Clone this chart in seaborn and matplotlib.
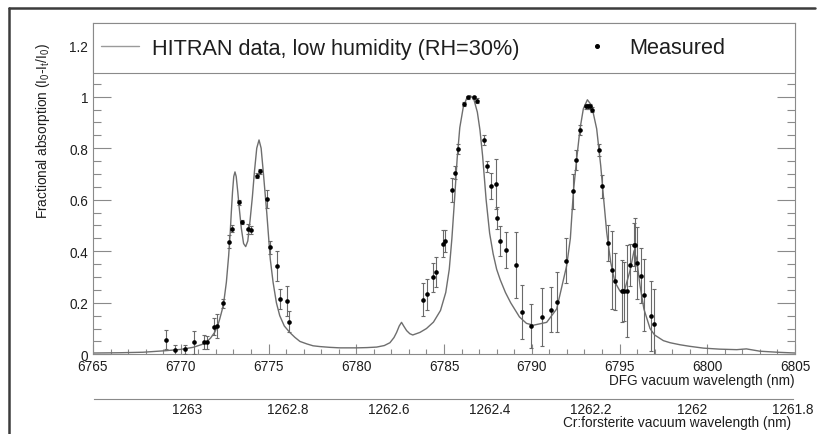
import matplotlib
matplotlib.use("Agg")
import matplotlib.pyplot as plt
import matplotlib.transforms as mtrans
import seaborn as sns
import pandas as pd
from matplotlib.ticker import MultipleLocator, FuncFormatter
from matplotlib.lines import Line2D
from matplotlib.patches import Rectangle

# ---------------- data ----------------
dfg_nm = [6769.14, 6769.69, 6770.24, 6770.77, 6771.32, 6771.50, 6771.88, 6772.05,
          6772.41, 6772.77, 6772.90, 6773.30, 6773.47, 6773.85, 6774.00, 6774.36,
          6774.53, 6774.93, 6775.09, 6775.48, 6775.64, 6776.04, 6776.17,
          6783.78, 6784.01, 6784.35, 6784.54, 6784.93, 6785.07, 6785.46, 6785.63,
          6785.82, 6786.14, 6786.39, 6786.73, 6786.90, 6787.28, 6787.47, 6787.66,
          6787.96, 6788.00, 6788.19, 6788.53, 6789.12, 6789.46, 6789.97, 6790.58,
          6791.10, 6791.46, 6791.97, 6792.35, 6792.54, 6792.73, 6793.09, 6793.22,
          6793.32, 6793.43, 6793.85, 6794.02, 6794.36, 6794.57, 6794.72, 6795.12,
          6795.27, 6795.44, 6795.61, 6795.80, 6795.88, 6795.99, 6796.20, 6796.39,
          6796.77, 6796.94]
absorption = [0.056, 0.015, 0.019, 0.047, 0.047, 0.047, 0.107, 0.110,
              0.198, 0.437, 0.487, 0.590, 0.514, 0.487, 0.483, 0.694,
              0.711, 0.602, 0.415, 0.344, 0.216, 0.207, 0.127,
              0.212, 0.233, 0.299, 0.318, 0.430, 0.439, 0.638, 0.705,
              0.797, 0.973, 0.998, 0.998, 0.985, 0.832, 0.730, 0.652,
              0.660, 0.528, 0.440, 0.405, 0.347, 0.164, 0.111, 0.145,
              0.173, 0.203, 0.364, 0.633, 0.755, 0.871, 0.962, 0.962,
              0.962, 0.950, 0.793, 0.652, 0.433, 0.327, 0.283, 0.245,
              0.245, 0.245, 0.348, 0.426, 0.425, 0.355, 0.305, 0.230,
              0.148, 0.116]
absorption_err = [0.037, 0.023, 0.018, 0.045, 0.027, 0.025, 0.034, 0.047,
                  0.017, 0.026, 0.013, 0.010, 0.008, 0.019, 0.015, 0.010,
                  0.010, 0.036, 0.024, 0.058, 0.039, 0.058, 0.042,
                  0.063, 0.060, 0.057, 0.058, 0.052, 0.042, 0.045, 0.026,
                  0.019, 0.008, 0.006, 0.006, 0.008, 0.019, 0.021, 0.051,
                  0.097, 0.043, 0.058, 0.071, 0.127, 0.105, 0.086, 0.111,
                  0.087, 0.117, 0.087, 0.068, 0.039, 0.020, 0.008, 0.008,
                  0.008, 0.010, 0.023, 0.044, 0.070, 0.152, 0.110, 0.120,
                  0.115, 0.179, 0.081, 0.084, 0.103, 0.140, 0.107, 0.141,
                  0.137, 0.137]

hitran_nm = [6765.0, 6766.5, 6767.85, 6769.14, 6770.0, 6770.7, 6771.2, 6771.46,
             6771.7, 6771.93, 6772.1, 6772.22, 6772.35, 6772.45, 6772.60, 6772.73,
             6772.82, 6772.88, 6772.95, 6773.02, 6773.09, 6773.16, 6773.25, 6773.33,
             6773.45, 6773.58, 6773.70, 6773.82, 6773.95, 6774.08, 6774.20, 6774.33,
             6774.46, 6774.58, 6774.70, 6774.80, 6774.90, 6775.00, 6775.10, 6775.26,
             6775.45, 6775.64, 6775.90, 6776.21, 6776.50, 6776.79, 6777.20, 6777.54,
             6777.93, 6778.50, 6779.07, 6780.03, 6780.60, 6781.16, 6781.60, 6781.92,
             6782.15, 6782.30, 6782.45, 6782.58, 6782.72, 6782.87, 6783.05, 6783.22,
             6783.63, 6784.00, 6784.40, 6784.80, 6785.10, 6785.30, 6785.45, 6785.60,
             6785.75, 6785.90, 6786.10, 6786.30, 6786.50, 6786.70, 6786.90, 6787.05,
             6787.20, 6787.40, 6787.60, 6787.80, 6788.00, 6788.20, 6788.50, 6788.80,
             6789.30, 6789.70, 6790.10, 6790.85, 6791.42, 6791.99, 6792.20,
             6792.37, 6792.56, 6792.75, 6792.94, 6793.17, 6793.41, 6793.70, 6793.93,
             6794.08, 6794.27, 6794.50, 6794.74, 6795.03, 6795.31, 6795.60, 6795.83,
             6795.98, 6796.17, 6796.39, 6796.74, 6797.00, 6797.50, 6797.88, 6798.45,
             6799.00, 6799.78, 6800.70, 6801.68, 6802.23, 6803.00, 6804.00, 6805.0]
hitran_abs = [0.005, 0.006, 0.008, 0.014, 0.019, 0.027, 0.038, 0.047,
              0.063, 0.085, 0.110, 0.137, 0.170, 0.202, 0.280, 0.383,
              0.474, 0.550, 0.630, 0.690, 0.708, 0.690, 0.630, 0.570,
              0.490, 0.430, 0.418, 0.440, 0.520, 0.610, 0.710, 0.800,
              0.832, 0.800, 0.710, 0.630, 0.550, 0.460, 0.370, 0.280,
              0.200, 0.150, 0.110, 0.085, 0.066, 0.050, 0.040, 0.033,
              0.030, 0.027, 0.025, 0.025, 0.026, 0.028, 0.034, 0.045,
              0.065, 0.085, 0.110, 0.124, 0.108, 0.092, 0.080, 0.075,
              0.085, 0.100, 0.125, 0.170, 0.240, 0.330, 0.450, 0.600,
              0.760, 0.880, 0.960, 0.995, 1.004, 0.990, 0.940, 0.870,
              0.770, 0.600, 0.470, 0.390, 0.330, 0.290, 0.240, 0.200,
              0.145, 0.120, 0.113, 0.124, 0.176, 0.344, 0.450,
              0.629, 0.758, 0.875, 0.953, 0.988, 0.966, 0.875, 0.732,
              0.616, 0.474, 0.357, 0.280, 0.245, 0.254, 0.325, 0.402,
              0.370, 0.266, 0.176, 0.100, 0.075, 0.053, 0.045, 0.037,
              0.031, 0.024, 0.020, 0.018, 0.021, 0.012, 0.008, 0.005]

crf_limits = (1263.184, 1261.8)

legend_labels = ["HITRAN data, low humidity (RH=30%)", "Measured"]
x_title = "DFG vacuum wavelength (nm)"
x2_title = "Cr:forsterite vacuum wavelength (nm)"
y_title = "Fractional absorption (I$_{0}$-I$_{t}$/I$_{0}$)"

# ---------------- style ----------------
sns.set_style("white")
plt.rcParams["font.family"] = ["Liberation Sans", "DejaVu Sans"]
plt.rcParams["mathtext.default"] = "regular"

FRAME = "#8a8a8a"
CURVE = "#6e6e6e"
TXT = "#1e1e1e"
FS = 9.8

W, H = 823, 435
fig = plt.figure(figsize=(W / 100, H / 100), dpi=100)
ax_l, ax_r, ax_b, ax_t = 93, 795, 355.3, 24
ax = fig.add_axes([ax_l / W, (H - ax_b) / H, (ax_r - ax_l) / W, (ax_b - ax_t) / H])

curve_df = pd.DataFrame({"nm": hitran_nm, "abs": hitran_abs})
meas_df = pd.DataFrame({"nm": dfg_nm, "abs": absorption, "err": absorption_err})

sns.lineplot(data=curve_df, x="nm", y="abs", ax=ax, color=CURVE, lw=1.0,
             sort=False, estimator=None, zorder=2)
ax.errorbar(meas_df["nm"], meas_df["abs"], yerr=meas_df["err"], fmt="none",
            ecolor="#6a6a6a", elinewidth=0.8, capsize=1.3, capthick=0.8, zorder=3)
sns.scatterplot(data=meas_df, x="nm", y="abs", ax=ax, color="black", s=11,
                linewidth=0, zorder=4)

ax.set_xlim(6765, 6805)
ax.set_ylim(0, 1.286)
ax.xaxis.set_major_locator(MultipleLocator(5))
ax.xaxis.set_minor_locator(MultipleLocator(1))
ax.yaxis.set_major_locator(MultipleLocator(0.2))
ax.yaxis.set_minor_locator(MultipleLocator(0.05))
fmt = FuncFormatter(lambda v, p: "%g" % round(v, 4))
ax.yaxis.set_major_formatter(fmt)
ax.xaxis.set_major_formatter(fmt)

for s in ax.spines.values():
    s.set_color(FRAME)
    s.set_linewidth(0.8)
ax.tick_params(axis="both", which="both", direction="in", colors=FRAME,
               labelcolor=TXT, labelsize=FS, width=0.8)
ax.tick_params(axis="y", which="major", length=13, pad=3.5, left=True, right=True)
ax.tick_params(axis="y", which="minor", length=6, left=True, right=True)
ax.tick_params(axis="x", which="major", length=7, pad=3.2, bottom=True, top=False)
ax.tick_params(axis="x", which="minor", length=3.5, bottom=True, top=False)

ax.set_xlabel(x_title, fontsize=FS, color=TXT, loc="right")
ax.xaxis.label.set_va("center")
ax.xaxis.set_label_coords(1.0, (ax_b - 381.5) / (ax_b - ax_t))
ax.set_ylabel(y_title, fontsize=FS, color=TXT, loc="top")
ax.yaxis.label.set_va("center")
ax.yaxis.set_label_coords((43 - ax_l) / (ax_r - ax_l), (ax_b - 43) / (ax_b - ax_t))

# legend box spanning the top of the frame
box_bottom = (ax_b - 74) / (ax_b - ax_t)
ax.add_patch(Rectangle((0, box_bottom), 1, 1 - box_bottom, transform=ax.transAxes,
                       facecolor="white", edgecolor=FRAME, lw=0.8, zorder=5,
                       clip_on=False))
handles = [Line2D([], [], color="#9a9a9a", lw=1.0),
           Line2D([], [], color="black", marker="o", ls="", markersize=2.6)]
LFS = 15.6
leg = ax.legend(handles, legend_labels, loc="center left",
                bbox_to_anchor=((101 - ax_l) / (ax_r - ax_l), (ax_b - 49) / (ax_b - ax_t)),
                ncol=2, frameon=False, fontsize=LFS, handlelength=1.75,
                handletextpad=0.6, columnspacing=2.72, borderpad=0,
                borderaxespad=0)
leg.set_zorder(6)
for t in leg.get_texts():
    t.set_color(TXT)

# secondary (Cr:forsterite) axis
a2_l, a2_r, a2_y = 94, 792.7, 400
ax2 = fig.add_axes([a2_l / W, (H - a2_y) / H, (a2_r - a2_l) / W, 0.0005])
ax2.set_xlim(*crf_limits)
ax2.set_yticks([])
ax2.patch.set_visible(False)
for k in ("left", "right", "top"):
    ax2.spines[k].set_visible(False)
ax2.spines["bottom"].set_color(FRAME)
ax2.spines["bottom"].set_linewidth(0.8)
ax2.xaxis.set_major_locator(MultipleLocator(0.2))
ax2.xaxis.set_minor_locator(MultipleLocator(0.05))
ax2.xaxis.set_major_formatter(fmt)
ax2.tick_params(axis="x", which="both", direction="in", colors=FRAME,
                labelcolor=TXT, labelsize=FS, width=0.8)
ax2.tick_params(axis="x", which="major", length=7.7, pad=2.5)
ax2.tick_params(axis="x", which="minor", length=3.6)
ax2.set_xlabel(x2_title, fontsize=FS, color=TXT, loc="right")
ax2.xaxis.label.set_va("center")
ax2.xaxis.label.set_transform(mtrans.blended_transform_factory(ax2.transAxes, fig.transFigure))
ax2.xaxis.set_label_coords((790.7 - a2_l) / (a2_r - a2_l), (H - 423.5) / H,
                           transform=mtrans.blended_transform_factory(ax2.transAxes, fig.transFigure))

# outer canvas border (top and left)
fig.add_artist(Line2D([9 / W, 815 / W], [(H - 9) / H, (H - 9) / H], color="#3c3c3c", lw=1.8))
fig.add_artist(Line2D([9 / W, 9 / W], [0, (H - 9) / H], color="#3c3c3c", lw=1.8))

fig.savefig("out.png", dpi=100)
